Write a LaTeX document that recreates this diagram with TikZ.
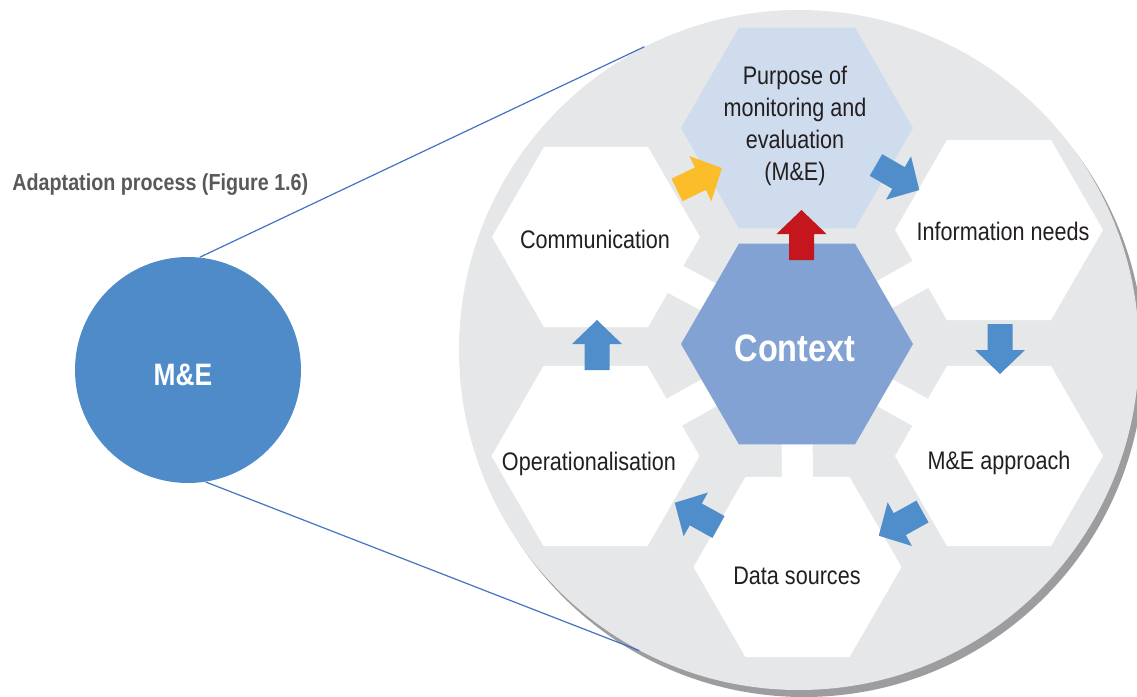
\documentclass[tikz,border=0pt]{standalone}
\usepackage{fontspec}
\setmainfont{Liberation Sans}[FakeStretch=0.85]
\usetikzlibrary{shapes.geometric}
\definecolor{bgc}{HTML}{E6E7E8}
\definecolor{shd}{HTML}{9D9C9E}
\definecolor{pur}{HTML}{CEDCED}
\definecolor{ctx}{HTML}{82A2D4}
\definecolor{blu}{HTML}{4F8DCB}
\definecolor{yel}{HTML}{FBBD2A}
\definecolor{redc}{HTML}{C4161C}
\definecolor{txt}{HTML}{231F20}
\definecolor{hdg}{HTML}{595959}
\definecolor{lnc}{HTML}{4472C4}
\definecolor{mec}{HTML}{4F8BC9}
\newcommand\blockarrow[4]{%
  \fill[#1, shift={(#2,#3)}, rotate=#4] (0,-12.5) -- (26,-12.5) -- (26,-25) -- (50,0) -- (26,25) -- (26,12.5) -- (0,12.5) -- cycle;}
\begin{document}
\begin{tikzpicture}[x=0.5pt,y=-0.5pt,
  hexbig/.style={regular polygon, regular polygon sides=6, minimum size=116pt, inner sep=0pt, draw=none},
  hexsmall/.style={regular polygon, regular polygon sides=6, minimum size=104pt, inner sep=0pt, fill=white, draw=none},
  lbl/.style={text=txt, font=\fontsize{12.7}{16}\selectfont, align=center, inner sep=0pt},
  spoke/.style={white, line width=15.5pt},
  zoomline/.style={lnc, line width=0.6pt},
]
\useasboundingbox (0,0) rectangle (1137,697);
% small circle and heading
\node[circle, fill=mec, minimum size=113pt, inner sep=0pt] (me) at (188,370) {};
\node[text=white, font=\bfseries\fontsize{15.5}{18}\selectfont, inner sep=0pt] (melbl) at (183,375) {M\&E};
\node[anchor=west, text=hdg, font=\bfseries\fontsize{11.6}{14}\selectfont, inner sep=0pt] (head) at (12,185) {Adaptation process (Figure 1.6)};
% big circle
\node[circle, fill=shd, minimum size=340pt, inner sep=0pt] (shadow) at (804,357) {};
\node[circle, fill=bgc, minimum size=340pt, inner sep=0pt] (big) at (799,350) {};
\draw[zoomline] (me.84) -- (big.117.7);
\draw[zoomline] (me.-81) -- (big.-118.2);
% centres
\coordinate (cP) at (797,128);
\coordinate (cC) at (797,344);
\coordinate (cI) at (999,230);
\coordinate (cA) at (999,456);
\coordinate (cD) at (797.5,567);
\coordinate (cO) at (595.5,456);
\coordinate (cM) at (596,237);
% spokes
\foreach \t in {cI,cA,cD,cO,cM} \draw[spoke] (cC) -- (\t);
% hexagons
\node[hexbig, fill=pur] (purpose) at (cP) {};
\node[hexbig, fill=ctx] (context) at (cC) {};
\node[hexsmall] (info) at (cI) {};
\node[hexsmall] (appr) at (cA) {};
\node[hexsmall] (data) at (cD) {};
\node[hexsmall] (oper) at (cO) {};
\node[hexsmall] (comm) at (cM) {};
% block arrows
\blockarrow{redc}{801.5}{260}{90}
\blockarrow{yel}{677}{190}{26}
\blockarrow{blu}{876}{165}{-30}
\blockarrow{blu}{1000}{324}{-90}
\blockarrow{blu}{922.5}{511.5}{-151}
\blockarrow{blu}{718.5}{527}{151}
\blockarrow{blu}{597}{370}{90}
% labels
\node[lbl] (tP) at (795,126) {Purpose of\\monitoring and\\evaluation\\(M\&E)};
\node[text=white, font=\bfseries\fontsize{19.1}{22}\selectfont, inner sep=0pt] (tC) at (795,348) {Context};
\node[lbl] (tI) at (1003,231) {Information needs};
\node[lbl] (tA) at (999,463) {M\&E approach};
\node[lbl] (tD) at (797,576) {Data sources};
\node[lbl] (tO) at (589,464) {Operationalisation};
\node[lbl] (tM) at (595,239) {Communication};
\end{tikzpicture}
\end{document}
